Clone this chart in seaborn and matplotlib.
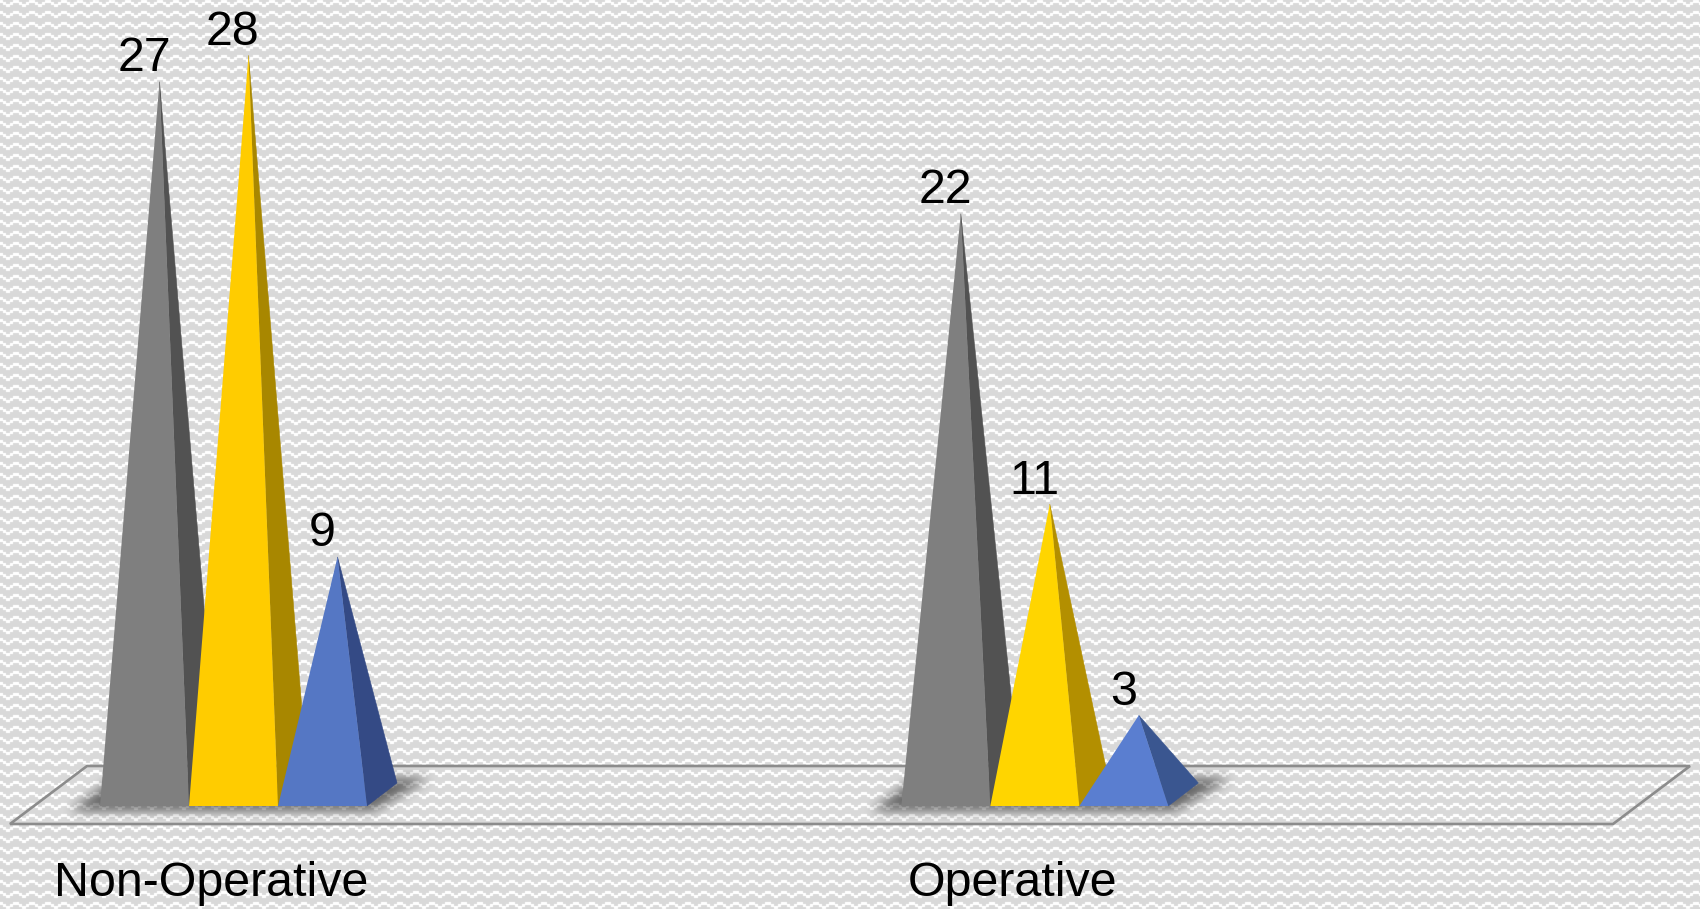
import numpy as np
import pandas as pd
import matplotlib
matplotlib.use("Agg")
import matplotlib.pyplot as plt
import seaborn as sns
from matplotlib.patches import Polygon

# === data ===
groups = ["Non-Operative", "Operative"]
series = ["A", "B", "C"]
values_a = [27, 22]
values_b = [28, 11]
values_c = [9, 3]

front_colors = [["#7f7f7f", "#ffcc00", "#5577c4"], ["#7f7f7f", "#ffd500", "#5a7ed0"]]
side_colors = [["#525252", "#a88700", "#344a85"], ["#525252", "#b38f00", "#3a5690"]]

W, H = 1700, 909
PX_PER_CAT = 801.3    # pixels between the two groups
PX_PER_VAL = 26.4     # pixels per count
X0_PX = 233.5         # pixel of first group centre
Y0_PX = 806.0         # pixel of the front base edge
DEPTH_X, DEPTH_Y = 30 / PX_PER_CAT, 23 / PX_PER_VAL

sns.set_theme(style="white")
plt.rcParams["font.family"] = ["Liberation Sans", "DejaVu Sans"]

df = pd.DataFrame({
    "group": groups * 3,
    "series": np.repeat(series, 2),
    "count": values_a + values_b + values_c,
})

fig = plt.figure(figsize=(W / 100, H / 100), dpi=100)
ax = fig.add_axes([0, 0, 1, 1])
sns.barplot(df, x="group", y="count", hue="series", width=267 / PX_PER_CAT, gap=0,
            legend=False, ax=ax)

xlim = (-X0_PX / PX_PER_CAT, (W - X0_PX) / PX_PER_CAT)
ylim = (-(H - Y0_PX) / PX_PER_VAL, Y0_PX / PX_PER_VAL)
extent = (*xlim, *ylim)


def px_x(p):
    return (p - X0_PX) / PX_PER_CAT


def px_y(p):
    return (Y0_PX - p) / PX_PER_VAL


# zigzag background texture
tile = np.zeros((11, 16), dtype=bool)
offsets = [0, 0, 0, 2, 2, 2, 4, 4, 4, 4, 2, 2, 2, 0, 0, 0]
for col, off in enumerate(offsets):
    for row in range(3):
        tile[(row + off) % 11, col] = True
bg = np.where(tile, 1.0, 0.85)
bg = (6 * bg + np.roll(bg, 1, 0) + np.roll(bg, -1, 0) + np.roll(bg, 1, 1) + np.roll(bg, -1, 1)) / 10
bg = np.tile(bg, (H // 11 + 1, W // 16 + 1))[:H, :W]
ax.imshow(bg, cmap="gray", vmin=0, vmax=1, extent=extent, aspect="auto",
          interpolation="nearest", zorder=0, origin="upper")

# floor of the chart
floor = [(10, 824), (87, 766), (1690, 766), (1613, 824)]
ax.add_patch(Polygon([(px_x(a), px_y(b)) for a, b in floor], closed=True, fill=False,
                     edgecolor="#8c8c8c", linewidth=1.9, zorder=1))

# blurred floor shadow under each group
shadow = np.zeros((H, W))
for i in range(len(groups)):
    left = X0_PX + i * PX_PER_CAT - 133.5
    right = X0_PX + i * PX_PER_CAT + 133.5
    for row in range(778, 811):
        t = (811 - row) / 33
        a = int(left - 30 + t * 45)
        b = int(right + 6 + t * 56)
        shadow[row, a:b] = 1.0
kernel = np.ones(13) / 13
for _ in range(2):
    shadow = np.apply_along_axis(lambda r: np.convolve(r, kernel, mode="same"), 1, shadow)
    shadow[760:830] = np.apply_along_axis(
        lambda c: np.convolve(c, kernel, mode="same"), 0, shadow[760:830])
rgba = np.zeros((H, W, 4))
rgba[..., 3] = shadow * 0.52
ax.imshow(rgba, extent=extent, aspect="auto", zorder=2, origin="upper")

# swap every bar for a pyramid, keeping the position and height the bar got
for s, container in enumerate(ax.containers):
    for g, bar in enumerate(container):
        x0 = bar.get_x()
        x1 = x0 + bar.get_width()
        v = bar.get_height()
        bar.set_visible(False)
        mid = (x0 + x1) / 2
        apex = (mid + DEPTH_X / 2, v + DEPTH_Y / 2)
        z = 3 + s
        # side edge in its own colour so no light seam shows at the ridge
        ax.add_patch(Polygon([(x1, 0), (x1 + DEPTH_X, DEPTH_Y), apex], closed=True,
                             facecolor=side_colors[g][s], edgecolor=side_colors[g][s],
                             linewidth=0.4, zorder=z))
        ax.add_patch(Polygon([(x0, 0), (x1, 0), apex], closed=True,
                             facecolor=front_colors[g][s], edgecolor="none", zorder=z + 0.1))
        ax.text(mid - 0.5 / PX_PER_CAT, apex[1] + 10.5 / PX_PER_VAL, str(int(v)), ha="center",
                va="baseline", fontsize=34.8, color="black", zorder=10)

for i, name in enumerate(groups):
    ax.text(i - 22.5 / PX_PER_CAT, px_y(896.5), name, ha="center", va="baseline",
            fontsize=34.8, color="black", zorder=10)

ax.set_xlim(*xlim)
ax.set_ylim(*ylim)
ax.set_axis_off()
fig.savefig("out.png", dpi=100)
